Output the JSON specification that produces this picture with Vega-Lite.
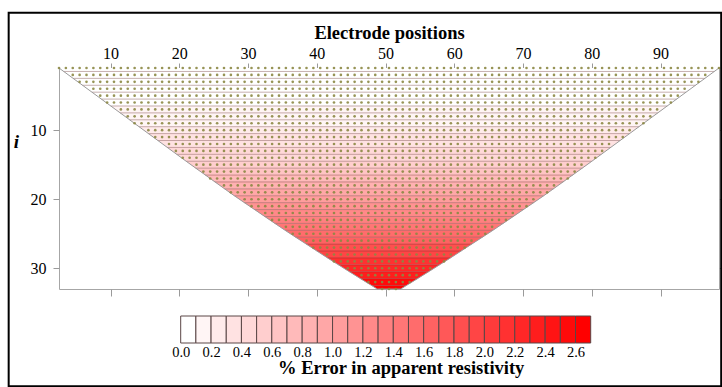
{
"$schema":"https://vega.github.io/schema/vega-lite/v6.json",
"padding":{"left":7,"top":11,"right":0,"bottom":0},
"autosize":{"type":"pad"},
"background":"white",
"bounds":"flush",
"spacing":27,
"resolve":{"scale":{"x":"independent","y":"independent","color":"independent"}},
"config":{"font":"Liberation Serif","axis":{"labelFont":"Liberation Serif","titleFont":"Liberation Serif","labelColor":"black","titleColor":"black","tickColor":"#9a9a9a","domain":false,"grid":false}},
"datasets":{
"frame":[{"x1":-4.82,"x2":98.82,"y1":-7.0,"y2":47.09}],
"outline":[{"o":1,"y":1,"x":2.5},{"o":2,"y":14.5,"x":20.99},{"o":3,"y":19.5,"x":28.0},{"o":4,"y":24.5,"x":35.38},{"o":5,"y":28.5,"x":41.56},{"o":6,"y":30.5,"x":44.74},{"o":7,"y":32.5,"x":47.98},{"o":8,"y":33,"x":48.8},{"o":9,"y":33,"x":52.2},{"o":10,"y":32.5,"x":53.02},{"o":11,"y":30.5,"x":56.26},{"o":12,"y":28.5,"x":59.44},{"o":13,"y":24.5,"x":65.62},{"o":14,"y":19.5,"x":73.0},{"o":15,"y":14.5,"x":80.01},{"o":16,"y":1,"x":98.5}],
"lines":[{"y":1.5,"l":3.18,"r":97.82},{"y":2.5,"l":4.55,"r":96.45},{"y":3.5,"l":5.92,"r":95.08},{"y":4.5,"l":7.29,"r":93.71},{"y":5.5,"l":8.66,"r":92.34},{"y":6.5,"l":10.03,"r":90.97},{"y":7.5,"l":11.4,"r":89.6},{"y":8.5,"l":12.77,"r":88.23},{"y":9.5,"l":14.14,"r":86.86},{"y":10.5,"l":15.51,"r":85.49},{"y":11.5,"l":16.88,"r":84.12},{"y":12.5,"l":18.25,"r":82.75},{"y":13.5,"l":19.62,"r":81.38},{"y":14.5,"l":20.99,"r":80.01},{"y":15.5,"l":22.37,"r":78.63},{"y":16.5,"l":23.75,"r":77.25},{"y":17.5,"l":25.15,"r":75.85},{"y":18.5,"l":26.57,"r":74.43},{"y":19.5,"l":28.0,"r":73.0},{"y":20.5,"l":29.44,"r":71.56},{"y":21.5,"l":30.91,"r":70.09},{"y":22.5,"l":32.38,"r":68.62},{"y":23.5,"l":33.87,"r":67.13},{"y":24.5,"l":35.38,"r":65.62},{"y":25.5,"l":36.9,"r":64.1},{"y":26.5,"l":38.44,"r":62.56},{"y":27.5,"l":39.99,"r":61.01},{"y":28.5,"l":41.56,"r":59.44},{"y":29.5,"l":43.14,"r":57.86},{"y":30.5,"l":44.74,"r":56.26},{"y":31.5,"l":46.35,"r":54.65},{"y":32.5,"l":47.98,"r":53.02}],
"bands":[
{"b":1,"y":1,"l":2.5,"r":98.5,"e":0},{"b":1,"y":1.5,"l":3.18,"r":97.82,"e":0},
{"b":2,"y":1.5,"l":3.18,"r":97.82,"e":0},{"b":2,"y":2.5,"l":4.55,"r":96.45,"e":0},
{"b":3,"y":2.5,"l":4.55,"r":96.45,"e":0.01},{"b":3,"y":3.5,"l":5.92,"r":95.08,"e":0.01},
{"b":4,"y":3.5,"l":5.92,"r":95.08,"e":0.03},{"b":4,"y":4.5,"l":7.29,"r":93.71,"e":0.03},
{"b":5,"y":4.5,"l":7.29,"r":93.71,"e":0.05},{"b":5,"y":5.5,"l":8.66,"r":92.34,"e":0.05},
{"b":6,"y":5.5,"l":8.66,"r":92.34,"e":0.08},{"b":6,"y":6.5,"l":10.03,"r":90.97,"e":0.08},
{"b":7,"y":6.5,"l":10.03,"r":90.97,"e":0.11},{"b":7,"y":7.5,"l":11.4,"r":89.6,"e":0.11},
{"b":8,"y":7.5,"l":11.4,"r":89.6,"e":0.15},{"b":8,"y":8.5,"l":12.77,"r":88.23,"e":0.15},
{"b":9,"y":8.5,"l":12.77,"r":88.23,"e":0.19},{"b":9,"y":9.5,"l":14.14,"r":86.86,"e":0.19},
{"b":10,"y":9.5,"l":14.14,"r":86.86,"e":0.24},{"b":10,"y":10.5,"l":15.51,"r":85.49,"e":0.24},
{"b":11,"y":10.5,"l":15.51,"r":85.49,"e":0.30},{"b":11,"y":11.5,"l":16.88,"r":84.12,"e":0.30},
{"b":12,"y":11.5,"l":16.88,"r":84.12,"e":0.36},{"b":12,"y":12.5,"l":18.25,"r":82.75,"e":0.36},
{"b":13,"y":12.5,"l":18.25,"r":82.75,"e":0.42},{"b":13,"y":13.5,"l":19.62,"r":81.38,"e":0.42},
{"b":14,"y":13.5,"l":19.62,"r":81.38,"e":0.49},{"b":14,"y":14.5,"l":20.99,"r":80.01,"e":0.49},
{"b":15,"y":14.5,"l":20.99,"r":80.01,"e":0.56},{"b":15,"y":15.5,"l":22.37,"r":78.63,"e":0.56},
{"b":16,"y":15.5,"l":22.37,"r":78.63,"e":0.64},{"b":16,"y":16.5,"l":23.75,"r":77.25,"e":0.64},
{"b":17,"y":16.5,"l":23.75,"r":77.25,"e":0.72},{"b":17,"y":17.5,"l":25.15,"r":75.85,"e":0.72},
{"b":18,"y":17.5,"l":25.15,"r":75.85,"e":0.81},{"b":18,"y":18.5,"l":26.57,"r":74.43,"e":0.81},
{"b":19,"y":18.5,"l":26.57,"r":74.43,"e":0.91},{"b":19,"y":19.5,"l":28.0,"r":73.0,"e":0.91},
{"b":20,"y":19.5,"l":28.0,"r":73.0,"e":1.00},{"b":20,"y":20.5,"l":29.44,"r":71.56,"e":1.00},
{"b":21,"y":20.5,"l":29.44,"r":71.56,"e":1.11},{"b":21,"y":21.5,"l":30.91,"r":70.09,"e":1.11},
{"b":22,"y":21.5,"l":30.91,"r":70.09,"e":1.21},{"b":22,"y":22.5,"l":32.38,"r":68.62,"e":1.21},
{"b":23,"y":22.5,"l":32.38,"r":68.62,"e":1.33},{"b":23,"y":23.5,"l":33.87,"r":67.13,"e":1.33},
{"b":24,"y":23.5,"l":33.87,"r":67.13,"e":1.44},{"b":24,"y":24.5,"l":35.38,"r":65.62,"e":1.44},
{"b":25,"y":24.5,"l":35.38,"r":65.62,"e":1.56},{"b":25,"y":25.5,"l":36.9,"r":64.1,"e":1.56},
{"b":26,"y":25.5,"l":36.9,"r":64.1,"e":1.69},{"b":26,"y":26.5,"l":38.44,"r":62.56,"e":1.69},
{"b":27,"y":26.5,"l":38.44,"r":62.56,"e":1.82},{"b":27,"y":27.5,"l":39.99,"r":61.01,"e":1.82},
{"b":28,"y":27.5,"l":39.99,"r":61.01,"e":1.96},{"b":28,"y":28.5,"l":41.56,"r":59.44,"e":1.96},
{"b":29,"y":28.5,"l":41.56,"r":59.44,"e":2.10},{"b":29,"y":29.5,"l":43.14,"r":57.86,"e":2.10},
{"b":30,"y":29.5,"l":43.14,"r":57.86,"e":2.24},{"b":30,"y":30.5,"l":44.74,"r":56.26,"e":2.24},
{"b":31,"y":30.5,"l":44.74,"r":56.26,"e":2.39},{"b":31,"y":31.5,"l":46.35,"r":54.65,"e":2.39},
{"b":32,"y":31.5,"l":46.35,"r":54.65,"e":2.54},{"b":32,"y":32.5,"l":47.98,"r":53.02,"e":2.54},
{"b":33,"y":32.5,"l":47.98,"r":53.02,"e":2.65},{"b":33,"y":33,"l":48.8,"r":52.2,"e":2.65}
],
"legend":[{"lo":0,"hi":0.1,"m":0.05},{"lo":0.1,"hi":0.2,"m":0.15},{"lo":0.2,"hi":0.3,"m":0.25},{"lo":0.3,"hi":0.4,"m":0.35},{"lo":0.4,"hi":0.5,"m":0.45},{"lo":0.5,"hi":0.6,"m":0.55},{"lo":0.6,"hi":0.7,"m":0.65},{"lo":0.7,"hi":0.8,"m":0.75},{"lo":0.8,"hi":0.9,"m":0.85},{"lo":0.9,"hi":1.0,"m":0.95},{"lo":1.0,"hi":1.1,"m":1.05},{"lo":1.1,"hi":1.2,"m":1.15},{"lo":1.2,"hi":1.3,"m":1.25},{"lo":1.3,"hi":1.4,"m":1.35},{"lo":1.4,"hi":1.5,"m":1.45},{"lo":1.5,"hi":1.6,"m":1.55},{"lo":1.6,"hi":1.7,"m":1.65},{"lo":1.7,"hi":1.8,"m":1.75},{"lo":1.8,"hi":1.9,"m":1.85},{"lo":1.9,"hi":2.0,"m":1.95},{"lo":2.0,"hi":2.1,"m":2.05},{"lo":2.1,"hi":2.2,"m":2.15},{"lo":2.2,"hi":2.3,"m":2.25},{"lo":2.3,"hi":2.4,"m":2.35},{"lo":2.4,"hi":2.5,"m":2.45},{"lo":2.5,"hi":2.6,"m":2.55},{"lo":2.6,"hi":2.7,"m":2.65}],
"dots":[
{"x":2.5,"i":1},{"x":3.5,"i":1},{"x":4.5,"i":1},{"x":5.5,"i":1},{"x":6.5,"i":1},{"x":7.5,"i":1},{"x":8.5,"i":1},{"x":9.5,"i":1},{"x":10.5,"i":1},{"x":11.5,"i":1},{"x":12.5,"i":1},{"x":13.5,"i":1},{"x":14.5,"i":1},{"x":15.5,"i":1},{"x":16.5,"i":1},{"x":17.5,"i":1},{"x":18.5,"i":1},{"x":19.5,"i":1},{"x":20.5,"i":1},{"x":21.5,"i":1},{"x":22.5,"i":1},{"x":23.5,"i":1},{"x":24.5,"i":1},{"x":25.5,"i":1},{"x":26.5,"i":1},{"x":27.5,"i":1},{"x":28.5,"i":1},{"x":29.5,"i":1},{"x":30.5,"i":1},{"x":31.5,"i":1},{"x":32.5,"i":1},{"x":33.5,"i":1},{"x":34.5,"i":1},{"x":35.5,"i":1},{"x":36.5,"i":1},{"x":37.5,"i":1},{"x":38.5,"i":1},{"x":39.5,"i":1},{"x":40.5,"i":1},{"x":41.5,"i":1},{"x":42.5,"i":1},{"x":43.5,"i":1},{"x":44.5,"i":1},{"x":45.5,"i":1},{"x":46.5,"i":1},{"x":47.5,"i":1},{"x":48.5,"i":1},{"x":49.5,"i":1},{"x":50.5,"i":1},{"x":51.5,"i":1},{"x":52.5,"i":1},{"x":53.5,"i":1},{"x":54.5,"i":1},{"x":55.5,"i":1},{"x":56.5,"i":1},{"x":57.5,"i":1},{"x":58.5,"i":1},{"x":59.5,"i":1},{"x":60.5,"i":1},{"x":61.5,"i":1},{"x":62.5,"i":1},{"x":63.5,"i":1},{"x":64.5,"i":1},{"x":65.5,"i":1},{"x":66.5,"i":1},{"x":67.5,"i":1},{"x":68.5,"i":1},{"x":69.5,"i":1},{"x":70.5,"i":1},{"x":71.5,"i":1},{"x":72.5,"i":1},{"x":73.5,"i":1},{"x":74.5,"i":1},{"x":75.5,"i":1},{"x":76.5,"i":1},{"x":77.5,"i":1},{"x":78.5,"i":1},{"x":79.5,"i":1},{"x":80.5,"i":1},{"x":81.5,"i":1},{"x":82.5,"i":1},{"x":83.5,"i":1},{"x":84.5,"i":1},{"x":85.5,"i":1},{"x":86.5,"i":1},{"x":87.5,"i":1},{"x":88.5,"i":1},{"x":89.5,"i":1},{"x":90.5,"i":1},{"x":91.5,"i":1},{"x":92.5,"i":1},{"x":93.5,"i":1},{"x":94.5,"i":1},{"x":95.5,"i":1},{"x":96.5,"i":1},{"x":97.5,"i":1},{"x":98.5,"i":1},
{"x":4.5,"i":2},{"x":5.5,"i":2},{"x":6.5,"i":2},{"x":7.5,"i":2},{"x":8.5,"i":2},{"x":9.5,"i":2},{"x":10.5,"i":2},{"x":11.5,"i":2},{"x":12.5,"i":2},{"x":13.5,"i":2},{"x":14.5,"i":2},{"x":15.5,"i":2},{"x":16.5,"i":2},{"x":17.5,"i":2},{"x":18.5,"i":2},{"x":19.5,"i":2},{"x":20.5,"i":2},{"x":21.5,"i":2},{"x":22.5,"i":2},{"x":23.5,"i":2},{"x":24.5,"i":2},{"x":25.5,"i":2},{"x":26.5,"i":2},{"x":27.5,"i":2},{"x":28.5,"i":2},{"x":29.5,"i":2},{"x":30.5,"i":2},{"x":31.5,"i":2},{"x":32.5,"i":2},{"x":33.5,"i":2},{"x":34.5,"i":2},{"x":35.5,"i":2},{"x":36.5,"i":2},{"x":37.5,"i":2},{"x":38.5,"i":2},{"x":39.5,"i":2},{"x":40.5,"i":2},{"x":41.5,"i":2},{"x":42.5,"i":2},{"x":43.5,"i":2},{"x":44.5,"i":2},{"x":45.5,"i":2},{"x":46.5,"i":2},{"x":47.5,"i":2},{"x":48.5,"i":2},{"x":49.5,"i":2},{"x":50.5,"i":2},{"x":51.5,"i":2},{"x":52.5,"i":2},{"x":53.5,"i":2},{"x":54.5,"i":2},{"x":55.5,"i":2},{"x":56.5,"i":2},{"x":57.5,"i":2},{"x":58.5,"i":2},{"x":59.5,"i":2},{"x":60.5,"i":2},{"x":61.5,"i":2},{"x":62.5,"i":2},{"x":63.5,"i":2},{"x":64.5,"i":2},{"x":65.5,"i":2},{"x":66.5,"i":2},{"x":67.5,"i":2},{"x":68.5,"i":2},{"x":69.5,"i":2},{"x":70.5,"i":2},{"x":71.5,"i":2},{"x":72.5,"i":2},{"x":73.5,"i":2},{"x":74.5,"i":2},{"x":75.5,"i":2},{"x":76.5,"i":2},{"x":77.5,"i":2},{"x":78.5,"i":2},{"x":79.5,"i":2},{"x":80.5,"i":2},{"x":81.5,"i":2},{"x":82.5,"i":2},{"x":83.5,"i":2},{"x":84.5,"i":2},{"x":85.5,"i":2},{"x":86.5,"i":2},{"x":87.5,"i":2},{"x":88.5,"i":2},{"x":89.5,"i":2},{"x":90.5,"i":2},{"x":91.5,"i":2},{"x":92.5,"i":2},{"x":93.5,"i":2},{"x":94.5,"i":2},{"x":95.5,"i":2},{"x":96.5,"i":2},
{"x":5.5,"i":3},{"x":6.5,"i":3},{"x":7.5,"i":3},{"x":8.5,"i":3},{"x":9.5,"i":3},{"x":10.5,"i":3},{"x":11.5,"i":3},{"x":12.5,"i":3},{"x":13.5,"i":3},{"x":14.5,"i":3},{"x":15.5,"i":3},{"x":16.5,"i":3},{"x":17.5,"i":3},{"x":18.5,"i":3},{"x":19.5,"i":3},{"x":20.5,"i":3},{"x":21.5,"i":3},{"x":22.5,"i":3},{"x":23.5,"i":3},{"x":24.5,"i":3},{"x":25.5,"i":3},{"x":26.5,"i":3},{"x":27.5,"i":3},{"x":28.5,"i":3},{"x":29.5,"i":3},{"x":30.5,"i":3},{"x":31.5,"i":3},{"x":32.5,"i":3},{"x":33.5,"i":3},{"x":34.5,"i":3},{"x":35.5,"i":3},{"x":36.5,"i":3},{"x":37.5,"i":3},{"x":38.5,"i":3},{"x":39.5,"i":3},{"x":40.5,"i":3},{"x":41.5,"i":3},{"x":42.5,"i":3},{"x":43.5,"i":3},{"x":44.5,"i":3},{"x":45.5,"i":3},{"x":46.5,"i":3},{"x":47.5,"i":3},{"x":48.5,"i":3},{"x":49.5,"i":3},{"x":50.5,"i":3},{"x":51.5,"i":3},{"x":52.5,"i":3},{"x":53.5,"i":3},{"x":54.5,"i":3},{"x":55.5,"i":3},{"x":56.5,"i":3},{"x":57.5,"i":3},{"x":58.5,"i":3},{"x":59.5,"i":3},{"x":60.5,"i":3},{"x":61.5,"i":3},{"x":62.5,"i":3},{"x":63.5,"i":3},{"x":64.5,"i":3},{"x":65.5,"i":3},{"x":66.5,"i":3},{"x":67.5,"i":3},{"x":68.5,"i":3},{"x":69.5,"i":3},{"x":70.5,"i":3},{"x":71.5,"i":3},{"x":72.5,"i":3},{"x":73.5,"i":3},{"x":74.5,"i":3},{"x":75.5,"i":3},{"x":76.5,"i":3},{"x":77.5,"i":3},{"x":78.5,"i":3},{"x":79.5,"i":3},{"x":80.5,"i":3},{"x":81.5,"i":3},{"x":82.5,"i":3},{"x":83.5,"i":3},{"x":84.5,"i":3},{"x":85.5,"i":3},{"x":86.5,"i":3},{"x":87.5,"i":3},{"x":88.5,"i":3},{"x":89.5,"i":3},{"x":90.5,"i":3},{"x":91.5,"i":3},{"x":92.5,"i":3},{"x":93.5,"i":3},{"x":94.5,"i":3},{"x":95.5,"i":3},
{"x":7.5,"i":4},{"x":8.5,"i":4},{"x":9.5,"i":4},{"x":10.5,"i":4},{"x":11.5,"i":4},{"x":12.5,"i":4},{"x":13.5,"i":4},{"x":14.5,"i":4},{"x":15.5,"i":4},{"x":16.5,"i":4},{"x":17.5,"i":4},{"x":18.5,"i":4},{"x":19.5,"i":4},{"x":20.5,"i":4},{"x":21.5,"i":4},{"x":22.5,"i":4},{"x":23.5,"i":4},{"x":24.5,"i":4},{"x":25.5,"i":4},{"x":26.5,"i":4},{"x":27.5,"i":4},{"x":28.5,"i":4},{"x":29.5,"i":4},{"x":30.5,"i":4},{"x":31.5,"i":4},{"x":32.5,"i":4},{"x":33.5,"i":4},{"x":34.5,"i":4},{"x":35.5,"i":4},{"x":36.5,"i":4},{"x":37.5,"i":4},{"x":38.5,"i":4},{"x":39.5,"i":4},{"x":40.5,"i":4},{"x":41.5,"i":4},{"x":42.5,"i":4},{"x":43.5,"i":4},{"x":44.5,"i":4},{"x":45.5,"i":4},{"x":46.5,"i":4},{"x":47.5,"i":4},{"x":48.5,"i":4},{"x":49.5,"i":4},{"x":50.5,"i":4},{"x":51.5,"i":4},{"x":52.5,"i":4},{"x":53.5,"i":4},{"x":54.5,"i":4},{"x":55.5,"i":4},{"x":56.5,"i":4},{"x":57.5,"i":4},{"x":58.5,"i":4},{"x":59.5,"i":4},{"x":60.5,"i":4},{"x":61.5,"i":4},{"x":62.5,"i":4},{"x":63.5,"i":4},{"x":64.5,"i":4},{"x":65.5,"i":4},{"x":66.5,"i":4},{"x":67.5,"i":4},{"x":68.5,"i":4},{"x":69.5,"i":4},{"x":70.5,"i":4},{"x":71.5,"i":4},{"x":72.5,"i":4},{"x":73.5,"i":4},{"x":74.5,"i":4},{"x":75.5,"i":4},{"x":76.5,"i":4},{"x":77.5,"i":4},{"x":78.5,"i":4},{"x":79.5,"i":4},{"x":80.5,"i":4},{"x":81.5,"i":4},{"x":82.5,"i":4},{"x":83.5,"i":4},{"x":84.5,"i":4},{"x":85.5,"i":4},{"x":86.5,"i":4},{"x":87.5,"i":4},{"x":88.5,"i":4},{"x":89.5,"i":4},{"x":90.5,"i":4},{"x":91.5,"i":4},{"x":92.5,"i":4},{"x":93.5,"i":4},
{"x":8.5,"i":5},{"x":9.5,"i":5},{"x":10.5,"i":5},{"x":11.5,"i":5},{"x":12.5,"i":5},{"x":13.5,"i":5},{"x":14.5,"i":5},{"x":15.5,"i":5},{"x":16.5,"i":5},{"x":17.5,"i":5},{"x":18.5,"i":5},{"x":19.5,"i":5},{"x":20.5,"i":5},{"x":21.5,"i":5},{"x":22.5,"i":5},{"x":23.5,"i":5},{"x":24.5,"i":5},{"x":25.5,"i":5},{"x":26.5,"i":5},{"x":27.5,"i":5},{"x":28.5,"i":5},{"x":29.5,"i":5},{"x":30.5,"i":5},{"x":31.5,"i":5},{"x":32.5,"i":5},{"x":33.5,"i":5},{"x":34.5,"i":5},{"x":35.5,"i":5},{"x":36.5,"i":5},{"x":37.5,"i":5},{"x":38.5,"i":5},{"x":39.5,"i":5},{"x":40.5,"i":5},{"x":41.5,"i":5},{"x":42.5,"i":5},{"x":43.5,"i":5},{"x":44.5,"i":5},{"x":45.5,"i":5},{"x":46.5,"i":5},{"x":47.5,"i":5},{"x":48.5,"i":5},{"x":49.5,"i":5},{"x":50.5,"i":5},{"x":51.5,"i":5},{"x":52.5,"i":5},{"x":53.5,"i":5},{"x":54.5,"i":5},{"x":55.5,"i":5},{"x":56.5,"i":5},{"x":57.5,"i":5},{"x":58.5,"i":5},{"x":59.5,"i":5},{"x":60.5,"i":5},{"x":61.5,"i":5},{"x":62.5,"i":5},{"x":63.5,"i":5},{"x":64.5,"i":5},{"x":65.5,"i":5},{"x":66.5,"i":5},{"x":67.5,"i":5},{"x":68.5,"i":5},{"x":69.5,"i":5},{"x":70.5,"i":5},{"x":71.5,"i":5},{"x":72.5,"i":5},{"x":73.5,"i":5},{"x":74.5,"i":5},{"x":75.5,"i":5},{"x":76.5,"i":5},{"x":77.5,"i":5},{"x":78.5,"i":5},{"x":79.5,"i":5},{"x":80.5,"i":5},{"x":81.5,"i":5},{"x":82.5,"i":5},{"x":83.5,"i":5},{"x":84.5,"i":5},{"x":85.5,"i":5},{"x":86.5,"i":5},{"x":87.5,"i":5},{"x":88.5,"i":5},{"x":89.5,"i":5},{"x":90.5,"i":5},{"x":91.5,"i":5},{"x":92.5,"i":5},
{"x":9.5,"i":6},{"x":10.5,"i":6},{"x":11.5,"i":6},{"x":12.5,"i":6},{"x":13.5,"i":6},{"x":14.5,"i":6},{"x":15.5,"i":6},{"x":16.5,"i":6},{"x":17.5,"i":6},{"x":18.5,"i":6},{"x":19.5,"i":6},{"x":20.5,"i":6},{"x":21.5,"i":6},{"x":22.5,"i":6},{"x":23.5,"i":6},{"x":24.5,"i":6},{"x":25.5,"i":6},{"x":26.5,"i":6},{"x":27.5,"i":6},{"x":28.5,"i":6},{"x":29.5,"i":6},{"x":30.5,"i":6},{"x":31.5,"i":6},{"x":32.5,"i":6},{"x":33.5,"i":6},{"x":34.5,"i":6},{"x":35.5,"i":6},{"x":36.5,"i":6},{"x":37.5,"i":6},{"x":38.5,"i":6},{"x":39.5,"i":6},{"x":40.5,"i":6},{"x":41.5,"i":6},{"x":42.5,"i":6},{"x":43.5,"i":6},{"x":44.5,"i":6},{"x":45.5,"i":6},{"x":46.5,"i":6},{"x":47.5,"i":6},{"x":48.5,"i":6},{"x":49.5,"i":6},{"x":50.5,"i":6},{"x":51.5,"i":6},{"x":52.5,"i":6},{"x":53.5,"i":6},{"x":54.5,"i":6},{"x":55.5,"i":6},{"x":56.5,"i":6},{"x":57.5,"i":6},{"x":58.5,"i":6},{"x":59.5,"i":6},{"x":60.5,"i":6},{"x":61.5,"i":6},{"x":62.5,"i":6},{"x":63.5,"i":6},{"x":64.5,"i":6},{"x":65.5,"i":6},{"x":66.5,"i":6},{"x":67.5,"i":6},{"x":68.5,"i":6},{"x":69.5,"i":6},{"x":70.5,"i":6},{"x":71.5,"i":6},{"x":72.5,"i":6},{"x":73.5,"i":6},{"x":74.5,"i":6},{"x":75.5,"i":6},{"x":76.5,"i":6},{"x":77.5,"i":6},{"x":78.5,"i":6},{"x":79.5,"i":6},{"x":80.5,"i":6},{"x":81.5,"i":6},{"x":82.5,"i":6},{"x":83.5,"i":6},{"x":84.5,"i":6},{"x":85.5,"i":6},{"x":86.5,"i":6},{"x":87.5,"i":6},{"x":88.5,"i":6},{"x":89.5,"i":6},{"x":90.5,"i":6},{"x":91.5,"i":6},
{"x":11.5,"i":7},{"x":12.5,"i":7},{"x":13.5,"i":7},{"x":14.5,"i":7},{"x":15.5,"i":7},{"x":16.5,"i":7},{"x":17.5,"i":7},{"x":18.5,"i":7},{"x":19.5,"i":7},{"x":20.5,"i":7},{"x":21.5,"i":7},{"x":22.5,"i":7},{"x":23.5,"i":7},{"x":24.5,"i":7},{"x":25.5,"i":7},{"x":26.5,"i":7},{"x":27.5,"i":7},{"x":28.5,"i":7},{"x":29.5,"i":7},{"x":30.5,"i":7},{"x":31.5,"i":7},{"x":32.5,"i":7},{"x":33.5,"i":7},{"x":34.5,"i":7},{"x":35.5,"i":7},{"x":36.5,"i":7},{"x":37.5,"i":7},{"x":38.5,"i":7},{"x":39.5,"i":7},{"x":40.5,"i":7},{"x":41.5,"i":7},{"x":42.5,"i":7},{"x":43.5,"i":7},{"x":44.5,"i":7},{"x":45.5,"i":7},{"x":46.5,"i":7},{"x":47.5,"i":7},{"x":48.5,"i":7},{"x":49.5,"i":7},{"x":50.5,"i":7},{"x":51.5,"i":7},{"x":52.5,"i":7},{"x":53.5,"i":7},{"x":54.5,"i":7},{"x":55.5,"i":7},{"x":56.5,"i":7},{"x":57.5,"i":7},{"x":58.5,"i":7},{"x":59.5,"i":7},{"x":60.5,"i":7},{"x":61.5,"i":7},{"x":62.5,"i":7},{"x":63.5,"i":7},{"x":64.5,"i":7},{"x":65.5,"i":7},{"x":66.5,"i":7},{"x":67.5,"i":7},{"x":68.5,"i":7},{"x":69.5,"i":7},{"x":70.5,"i":7},{"x":71.5,"i":7},{"x":72.5,"i":7},{"x":73.5,"i":7},{"x":74.5,"i":7},{"x":75.5,"i":7},{"x":76.5,"i":7},{"x":77.5,"i":7},{"x":78.5,"i":7},{"x":79.5,"i":7},{"x":80.5,"i":7},{"x":81.5,"i":7},{"x":82.5,"i":7},{"x":83.5,"i":7},{"x":84.5,"i":7},{"x":85.5,"i":7},{"x":86.5,"i":7},{"x":87.5,"i":7},{"x":88.5,"i":7},{"x":89.5,"i":7},
{"x":12.5,"i":8},{"x":13.5,"i":8},{"x":14.5,"i":8},{"x":15.5,"i":8},{"x":16.5,"i":8},{"x":17.5,"i":8},{"x":18.5,"i":8},{"x":19.5,"i":8},{"x":20.5,"i":8},{"x":21.5,"i":8},{"x":22.5,"i":8},{"x":23.5,"i":8},{"x":24.5,"i":8},{"x":25.5,"i":8},{"x":26.5,"i":8},{"x":27.5,"i":8},{"x":28.5,"i":8},{"x":29.5,"i":8},{"x":30.5,"i":8},{"x":31.5,"i":8},{"x":32.5,"i":8},{"x":33.5,"i":8},{"x":34.5,"i":8},{"x":35.5,"i":8},{"x":36.5,"i":8},{"x":37.5,"i":8},{"x":38.5,"i":8},{"x":39.5,"i":8},{"x":40.5,"i":8},{"x":41.5,"i":8},{"x":42.5,"i":8},{"x":43.5,"i":8},{"x":44.5,"i":8},{"x":45.5,"i":8},{"x":46.5,"i":8},{"x":47.5,"i":8},{"x":48.5,"i":8},{"x":49.5,"i":8},{"x":50.5,"i":8},{"x":51.5,"i":8},{"x":52.5,"i":8},{"x":53.5,"i":8},{"x":54.5,"i":8},{"x":55.5,"i":8},{"x":56.5,"i":8},{"x":57.5,"i":8},{"x":58.5,"i":8},{"x":59.5,"i":8},{"x":60.5,"i":8},{"x":61.5,"i":8},{"x":62.5,"i":8},{"x":63.5,"i":8},{"x":64.5,"i":8},{"x":65.5,"i":8},{"x":66.5,"i":8},{"x":67.5,"i":8},{"x":68.5,"i":8},{"x":69.5,"i":8},{"x":70.5,"i":8},{"x":71.5,"i":8},{"x":72.5,"i":8},{"x":73.5,"i":8},{"x":74.5,"i":8},{"x":75.5,"i":8},{"x":76.5,"i":8},{"x":77.5,"i":8},{"x":78.5,"i":8},{"x":79.5,"i":8},{"x":80.5,"i":8},{"x":81.5,"i":8},{"x":82.5,"i":8},{"x":83.5,"i":8},{"x":84.5,"i":8},{"x":85.5,"i":8},{"x":86.5,"i":8},{"x":87.5,"i":8},{"x":88.5,"i":8},
{"x":13.5,"i":9},{"x":14.5,"i":9},{"x":15.5,"i":9},{"x":16.5,"i":9},{"x":17.5,"i":9},{"x":18.5,"i":9},{"x":19.5,"i":9},{"x":20.5,"i":9},{"x":21.5,"i":9},{"x":22.5,"i":9},{"x":23.5,"i":9},{"x":24.5,"i":9},{"x":25.5,"i":9},{"x":26.5,"i":9},{"x":27.5,"i":9},{"x":28.5,"i":9},{"x":29.5,"i":9},{"x":30.5,"i":9},{"x":31.5,"i":9},{"x":32.5,"i":9},{"x":33.5,"i":9},{"x":34.5,"i":9},{"x":35.5,"i":9},{"x":36.5,"i":9},{"x":37.5,"i":9},{"x":38.5,"i":9},{"x":39.5,"i":9},{"x":40.5,"i":9},{"x":41.5,"i":9},{"x":42.5,"i":9},{"x":43.5,"i":9},{"x":44.5,"i":9},{"x":45.5,"i":9},{"x":46.5,"i":9},{"x":47.5,"i":9},{"x":48.5,"i":9},{"x":49.5,"i":9},{"x":50.5,"i":9},{"x":51.5,"i":9},{"x":52.5,"i":9},{"x":53.5,"i":9},{"x":54.5,"i":9},{"x":55.5,"i":9},{"x":56.5,"i":9},{"x":57.5,"i":9},{"x":58.5,"i":9},{"x":59.5,"i":9},{"x":60.5,"i":9},{"x":61.5,"i":9},{"x":62.5,"i":9},{"x":63.5,"i":9},{"x":64.5,"i":9},{"x":65.5,"i":9},{"x":66.5,"i":9},{"x":67.5,"i":9},{"x":68.5,"i":9},{"x":69.5,"i":9},{"x":70.5,"i":9},{"x":71.5,"i":9},{"x":72.5,"i":9},{"x":73.5,"i":9},{"x":74.5,"i":9},{"x":75.5,"i":9},{"x":76.5,"i":9},{"x":77.5,"i":9},{"x":78.5,"i":9},{"x":79.5,"i":9},{"x":80.5,"i":9},{"x":81.5,"i":9},{"x":82.5,"i":9},{"x":83.5,"i":9},{"x":84.5,"i":9},{"x":85.5,"i":9},{"x":86.5,"i":9},{"x":87.5,"i":9},
{"x":15.5,"i":10},{"x":16.5,"i":10},{"x":17.5,"i":10},{"x":18.5,"i":10},{"x":19.5,"i":10},{"x":20.5,"i":10},{"x":21.5,"i":10},{"x":22.5,"i":10},{"x":23.5,"i":10},{"x":24.5,"i":10},{"x":25.5,"i":10},{"x":26.5,"i":10},{"x":27.5,"i":10},{"x":28.5,"i":10},{"x":29.5,"i":10},{"x":30.5,"i":10},{"x":31.5,"i":10},{"x":32.5,"i":10},{"x":33.5,"i":10},{"x":34.5,"i":10},{"x":35.5,"i":10},{"x":36.5,"i":10},{"x":37.5,"i":10},{"x":38.5,"i":10},{"x":39.5,"i":10},{"x":40.5,"i":10},{"x":41.5,"i":10},{"x":42.5,"i":10},{"x":43.5,"i":10},{"x":44.5,"i":10},{"x":45.5,"i":10},{"x":46.5,"i":10},{"x":47.5,"i":10},{"x":48.5,"i":10},{"x":49.5,"i":10},{"x":50.5,"i":10},{"x":51.5,"i":10},{"x":52.5,"i":10},{"x":53.5,"i":10},{"x":54.5,"i":10},{"x":55.5,"i":10},{"x":56.5,"i":10},{"x":57.5,"i":10},{"x":58.5,"i":10},{"x":59.5,"i":10},{"x":60.5,"i":10},{"x":61.5,"i":10},{"x":62.5,"i":10},{"x":63.5,"i":10},{"x":64.5,"i":10},{"x":65.5,"i":10},{"x":66.5,"i":10},{"x":67.5,"i":10},{"x":68.5,"i":10},{"x":69.5,"i":10},{"x":70.5,"i":10},{"x":71.5,"i":10},{"x":72.5,"i":10},{"x":73.5,"i":10},{"x":74.5,"i":10},{"x":75.5,"i":10},{"x":76.5,"i":10},{"x":77.5,"i":10},{"x":78.5,"i":10},{"x":79.5,"i":10},{"x":80.5,"i":10},{"x":81.5,"i":10},{"x":82.5,"i":10},{"x":83.5,"i":10},{"x":84.5,"i":10},{"x":85.5,"i":10},
{"x":16.5,"i":11},{"x":17.5,"i":11},{"x":18.5,"i":11},{"x":19.5,"i":11},{"x":20.5,"i":11},{"x":21.5,"i":11},{"x":22.5,"i":11},{"x":23.5,"i":11},{"x":24.5,"i":11},{"x":25.5,"i":11},{"x":26.5,"i":11},{"x":27.5,"i":11},{"x":28.5,"i":11},{"x":29.5,"i":11},{"x":30.5,"i":11},{"x":31.5,"i":11},{"x":32.5,"i":11},{"x":33.5,"i":11},{"x":34.5,"i":11},{"x":35.5,"i":11},{"x":36.5,"i":11},{"x":37.5,"i":11},{"x":38.5,"i":11},{"x":39.5,"i":11},{"x":40.5,"i":11},{"x":41.5,"i":11},{"x":42.5,"i":11},{"x":43.5,"i":11},{"x":44.5,"i":11},{"x":45.5,"i":11},{"x":46.5,"i":11},{"x":47.5,"i":11},{"x":48.5,"i":11},{"x":49.5,"i":11},{"x":50.5,"i":11},{"x":51.5,"i":11},{"x":52.5,"i":11},{"x":53.5,"i":11},{"x":54.5,"i":11},{"x":55.5,"i":11},{"x":56.5,"i":11},{"x":57.5,"i":11},{"x":58.5,"i":11},{"x":59.5,"i":11},{"x":60.5,"i":11},{"x":61.5,"i":11},{"x":62.5,"i":11},{"x":63.5,"i":11},{"x":64.5,"i":11},{"x":65.5,"i":11},{"x":66.5,"i":11},{"x":67.5,"i":11},{"x":68.5,"i":11},{"x":69.5,"i":11},{"x":70.5,"i":11},{"x":71.5,"i":11},{"x":72.5,"i":11},{"x":73.5,"i":11},{"x":74.5,"i":11},{"x":75.5,"i":11},{"x":76.5,"i":11},{"x":77.5,"i":11},{"x":78.5,"i":11},{"x":79.5,"i":11},{"x":80.5,"i":11},{"x":81.5,"i":11},{"x":82.5,"i":11},{"x":83.5,"i":11},{"x":84.5,"i":11},
{"x":18.5,"i":12},{"x":19.5,"i":12},{"x":20.5,"i":12},{"x":21.5,"i":12},{"x":22.5,"i":12},{"x":23.5,"i":12},{"x":24.5,"i":12},{"x":25.5,"i":12},{"x":26.5,"i":12},{"x":27.5,"i":12},{"x":28.5,"i":12},{"x":29.5,"i":12},{"x":30.5,"i":12},{"x":31.5,"i":12},{"x":32.5,"i":12},{"x":33.5,"i":12},{"x":34.5,"i":12},{"x":35.5,"i":12},{"x":36.5,"i":12},{"x":37.5,"i":12},{"x":38.5,"i":12},{"x":39.5,"i":12},{"x":40.5,"i":12},{"x":41.5,"i":12},{"x":42.5,"i":12},{"x":43.5,"i":12},{"x":44.5,"i":12},{"x":45.5,"i":12},{"x":46.5,"i":12},{"x":47.5,"i":12},{"x":48.5,"i":12},{"x":49.5,"i":12},{"x":50.5,"i":12},{"x":51.5,"i":12},{"x":52.5,"i":12},{"x":53.5,"i":12},{"x":54.5,"i":12},{"x":55.5,"i":12},{"x":56.5,"i":12},{"x":57.5,"i":12},{"x":58.5,"i":12},{"x":59.5,"i":12},{"x":60.5,"i":12},{"x":61.5,"i":12},{"x":62.5,"i":12},{"x":63.5,"i":12},{"x":64.5,"i":12},{"x":65.5,"i":12},{"x":66.5,"i":12},{"x":67.5,"i":12},{"x":68.5,"i":12},{"x":69.5,"i":12},{"x":70.5,"i":12},{"x":71.5,"i":12},{"x":72.5,"i":12},{"x":73.5,"i":12},{"x":74.5,"i":12},{"x":75.5,"i":12},{"x":76.5,"i":12},{"x":77.5,"i":12},{"x":78.5,"i":12},{"x":79.5,"i":12},{"x":80.5,"i":12},{"x":81.5,"i":12},{"x":82.5,"i":12},
{"x":19.5,"i":13},{"x":20.5,"i":13},{"x":21.5,"i":13},{"x":22.5,"i":13},{"x":23.5,"i":13},{"x":24.5,"i":13},{"x":25.5,"i":13},{"x":26.5,"i":13},{"x":27.5,"i":13},{"x":28.5,"i":13},{"x":29.5,"i":13},{"x":30.5,"i":13},{"x":31.5,"i":13},{"x":32.5,"i":13},{"x":33.5,"i":13},{"x":34.5,"i":13},{"x":35.5,"i":13},{"x":36.5,"i":13},{"x":37.5,"i":13},{"x":38.5,"i":13},{"x":39.5,"i":13},{"x":40.5,"i":13},{"x":41.5,"i":13},{"x":42.5,"i":13},{"x":43.5,"i":13},{"x":44.5,"i":13},{"x":45.5,"i":13},{"x":46.5,"i":13},{"x":47.5,"i":13},{"x":48.5,"i":13},{"x":49.5,"i":13},{"x":50.5,"i":13},{"x":51.5,"i":13},{"x":52.5,"i":13},{"x":53.5,"i":13},{"x":54.5,"i":13},{"x":55.5,"i":13},{"x":56.5,"i":13},{"x":57.5,"i":13},{"x":58.5,"i":13},{"x":59.5,"i":13},{"x":60.5,"i":13},{"x":61.5,"i":13},{"x":62.5,"i":13},{"x":63.5,"i":13},{"x":64.5,"i":13},{"x":65.5,"i":13},{"x":66.5,"i":13},{"x":67.5,"i":13},{"x":68.5,"i":13},{"x":69.5,"i":13},{"x":70.5,"i":13},{"x":71.5,"i":13},{"x":72.5,"i":13},{"x":73.5,"i":13},{"x":74.5,"i":13},{"x":75.5,"i":13},{"x":76.5,"i":13},{"x":77.5,"i":13},{"x":78.5,"i":13},{"x":79.5,"i":13},{"x":80.5,"i":13},{"x":81.5,"i":13},
{"x":20.5,"i":14},{"x":21.5,"i":14},{"x":22.5,"i":14},{"x":23.5,"i":14},{"x":24.5,"i":14},{"x":25.5,"i":14},{"x":26.5,"i":14},{"x":27.5,"i":14},{"x":28.5,"i":14},{"x":29.5,"i":14},{"x":30.5,"i":14},{"x":31.5,"i":14},{"x":32.5,"i":14},{"x":33.5,"i":14},{"x":34.5,"i":14},{"x":35.5,"i":14},{"x":36.5,"i":14},{"x":37.5,"i":14},{"x":38.5,"i":14},{"x":39.5,"i":14},{"x":40.5,"i":14},{"x":41.5,"i":14},{"x":42.5,"i":14},{"x":43.5,"i":14},{"x":44.5,"i":14},{"x":45.5,"i":14},{"x":46.5,"i":14},{"x":47.5,"i":14},{"x":48.5,"i":14},{"x":49.5,"i":14},{"x":50.5,"i":14},{"x":51.5,"i":14},{"x":52.5,"i":14},{"x":53.5,"i":14},{"x":54.5,"i":14},{"x":55.5,"i":14},{"x":56.5,"i":14},{"x":57.5,"i":14},{"x":58.5,"i":14},{"x":59.5,"i":14},{"x":60.5,"i":14},{"x":61.5,"i":14},{"x":62.5,"i":14},{"x":63.5,"i":14},{"x":64.5,"i":14},{"x":65.5,"i":14},{"x":66.5,"i":14},{"x":67.5,"i":14},{"x":68.5,"i":14},{"x":69.5,"i":14},{"x":70.5,"i":14},{"x":71.5,"i":14},{"x":72.5,"i":14},{"x":73.5,"i":14},{"x":74.5,"i":14},{"x":75.5,"i":14},{"x":76.5,"i":14},{"x":77.5,"i":14},{"x":78.5,"i":14},{"x":79.5,"i":14},{"x":80.5,"i":14},
{"x":22.5,"i":15},{"x":23.5,"i":15},{"x":24.5,"i":15},{"x":25.5,"i":15},{"x":26.5,"i":15},{"x":27.5,"i":15},{"x":28.5,"i":15},{"x":29.5,"i":15},{"x":30.5,"i":15},{"x":31.5,"i":15},{"x":32.5,"i":15},{"x":33.5,"i":15},{"x":34.5,"i":15},{"x":35.5,"i":15},{"x":36.5,"i":15},{"x":37.5,"i":15},{"x":38.5,"i":15},{"x":39.5,"i":15},{"x":40.5,"i":15},{"x":41.5,"i":15},{"x":42.5,"i":15},{"x":43.5,"i":15},{"x":44.5,"i":15},{"x":45.5,"i":15},{"x":46.5,"i":15},{"x":47.5,"i":15},{"x":48.5,"i":15},{"x":49.5,"i":15},{"x":50.5,"i":15},{"x":51.5,"i":15},{"x":52.5,"i":15},{"x":53.5,"i":15},{"x":54.5,"i":15},{"x":55.5,"i":15},{"x":56.5,"i":15},{"x":57.5,"i":15},{"x":58.5,"i":15},{"x":59.5,"i":15},{"x":60.5,"i":15},{"x":61.5,"i":15},{"x":62.5,"i":15},{"x":63.5,"i":15},{"x":64.5,"i":15},{"x":65.5,"i":15},{"x":66.5,"i":15},{"x":67.5,"i":15},{"x":68.5,"i":15},{"x":69.5,"i":15},{"x":70.5,"i":15},{"x":71.5,"i":15},{"x":72.5,"i":15},{"x":73.5,"i":15},{"x":74.5,"i":15},{"x":75.5,"i":15},{"x":76.5,"i":15},{"x":77.5,"i":15},{"x":78.5,"i":15},
{"x":23.5,"i":16},{"x":24.5,"i":16},{"x":25.5,"i":16},{"x":26.5,"i":16},{"x":27.5,"i":16},{"x":28.5,"i":16},{"x":29.5,"i":16},{"x":30.5,"i":16},{"x":31.5,"i":16},{"x":32.5,"i":16},{"x":33.5,"i":16},{"x":34.5,"i":16},{"x":35.5,"i":16},{"x":36.5,"i":16},{"x":37.5,"i":16},{"x":38.5,"i":16},{"x":39.5,"i":16},{"x":40.5,"i":16},{"x":41.5,"i":16},{"x":42.5,"i":16},{"x":43.5,"i":16},{"x":44.5,"i":16},{"x":45.5,"i":16},{"x":46.5,"i":16},{"x":47.5,"i":16},{"x":48.5,"i":16},{"x":49.5,"i":16},{"x":50.5,"i":16},{"x":51.5,"i":16},{"x":52.5,"i":16},{"x":53.5,"i":16},{"x":54.5,"i":16},{"x":55.5,"i":16},{"x":56.5,"i":16},{"x":57.5,"i":16},{"x":58.5,"i":16},{"x":59.5,"i":16},{"x":60.5,"i":16},{"x":61.5,"i":16},{"x":62.5,"i":16},{"x":63.5,"i":16},{"x":64.5,"i":16},{"x":65.5,"i":16},{"x":66.5,"i":16},{"x":67.5,"i":16},{"x":68.5,"i":16},{"x":69.5,"i":16},{"x":70.5,"i":16},{"x":71.5,"i":16},{"x":72.5,"i":16},{"x":73.5,"i":16},{"x":74.5,"i":16},{"x":75.5,"i":16},{"x":76.5,"i":16},{"x":77.5,"i":16},
{"x":24.5,"i":17},{"x":25.5,"i":17},{"x":26.5,"i":17},{"x":27.5,"i":17},{"x":28.5,"i":17},{"x":29.5,"i":17},{"x":30.5,"i":17},{"x":31.5,"i":17},{"x":32.5,"i":17},{"x":33.5,"i":17},{"x":34.5,"i":17},{"x":35.5,"i":17},{"x":36.5,"i":17},{"x":37.5,"i":17},{"x":38.5,"i":17},{"x":39.5,"i":17},{"x":40.5,"i":17},{"x":41.5,"i":17},{"x":42.5,"i":17},{"x":43.5,"i":17},{"x":44.5,"i":17},{"x":45.5,"i":17},{"x":46.5,"i":17},{"x":47.5,"i":17},{"x":48.5,"i":17},{"x":49.5,"i":17},{"x":50.5,"i":17},{"x":51.5,"i":17},{"x":52.5,"i":17},{"x":53.5,"i":17},{"x":54.5,"i":17},{"x":55.5,"i":17},{"x":56.5,"i":17},{"x":57.5,"i":17},{"x":58.5,"i":17},{"x":59.5,"i":17},{"x":60.5,"i":17},{"x":61.5,"i":17},{"x":62.5,"i":17},{"x":63.5,"i":17},{"x":64.5,"i":17},{"x":65.5,"i":17},{"x":66.5,"i":17},{"x":67.5,"i":17},{"x":68.5,"i":17},{"x":69.5,"i":17},{"x":70.5,"i":17},{"x":71.5,"i":17},{"x":72.5,"i":17},{"x":73.5,"i":17},{"x":74.5,"i":17},{"x":75.5,"i":17},{"x":76.5,"i":17},
{"x":26.5,"i":18},{"x":27.5,"i":18},{"x":28.5,"i":18},{"x":29.5,"i":18},{"x":30.5,"i":18},{"x":31.5,"i":18},{"x":32.5,"i":18},{"x":33.5,"i":18},{"x":34.5,"i":18},{"x":35.5,"i":18},{"x":36.5,"i":18},{"x":37.5,"i":18},{"x":38.5,"i":18},{"x":39.5,"i":18},{"x":40.5,"i":18},{"x":41.5,"i":18},{"x":42.5,"i":18},{"x":43.5,"i":18},{"x":44.5,"i":18},{"x":45.5,"i":18},{"x":46.5,"i":18},{"x":47.5,"i":18},{"x":48.5,"i":18},{"x":49.5,"i":18},{"x":50.5,"i":18},{"x":51.5,"i":18},{"x":52.5,"i":18},{"x":53.5,"i":18},{"x":54.5,"i":18},{"x":55.5,"i":18},{"x":56.5,"i":18},{"x":57.5,"i":18},{"x":58.5,"i":18},{"x":59.5,"i":18},{"x":60.5,"i":18},{"x":61.5,"i":18},{"x":62.5,"i":18},{"x":63.5,"i":18},{"x":64.5,"i":18},{"x":65.5,"i":18},{"x":66.5,"i":18},{"x":67.5,"i":18},{"x":68.5,"i":18},{"x":69.5,"i":18},{"x":70.5,"i":18},{"x":71.5,"i":18},{"x":72.5,"i":18},{"x":73.5,"i":18},{"x":74.5,"i":18},
{"x":27.5,"i":19},{"x":28.5,"i":19},{"x":29.5,"i":19},{"x":30.5,"i":19},{"x":31.5,"i":19},{"x":32.5,"i":19},{"x":33.5,"i":19},{"x":34.5,"i":19},{"x":35.5,"i":19},{"x":36.5,"i":19},{"x":37.5,"i":19},{"x":38.5,"i":19},{"x":39.5,"i":19},{"x":40.5,"i":19},{"x":41.5,"i":19},{"x":42.5,"i":19},{"x":43.5,"i":19},{"x":44.5,"i":19},{"x":45.5,"i":19},{"x":46.5,"i":19},{"x":47.5,"i":19},{"x":48.5,"i":19},{"x":49.5,"i":19},{"x":50.5,"i":19},{"x":51.5,"i":19},{"x":52.5,"i":19},{"x":53.5,"i":19},{"x":54.5,"i":19},{"x":55.5,"i":19},{"x":56.5,"i":19},{"x":57.5,"i":19},{"x":58.5,"i":19},{"x":59.5,"i":19},{"x":60.5,"i":19},{"x":61.5,"i":19},{"x":62.5,"i":19},{"x":63.5,"i":19},{"x":64.5,"i":19},{"x":65.5,"i":19},{"x":66.5,"i":19},{"x":67.5,"i":19},{"x":68.5,"i":19},{"x":69.5,"i":19},{"x":70.5,"i":19},{"x":71.5,"i":19},{"x":72.5,"i":19},{"x":73.5,"i":19},
{"x":29.5,"i":20},{"x":30.5,"i":20},{"x":31.5,"i":20},{"x":32.5,"i":20},{"x":33.5,"i":20},{"x":34.5,"i":20},{"x":35.5,"i":20},{"x":36.5,"i":20},{"x":37.5,"i":20},{"x":38.5,"i":20},{"x":39.5,"i":20},{"x":40.5,"i":20},{"x":41.5,"i":20},{"x":42.5,"i":20},{"x":43.5,"i":20},{"x":44.5,"i":20},{"x":45.5,"i":20},{"x":46.5,"i":20},{"x":47.5,"i":20},{"x":48.5,"i":20},{"x":49.5,"i":20},{"x":50.5,"i":20},{"x":51.5,"i":20},{"x":52.5,"i":20},{"x":53.5,"i":20},{"x":54.5,"i":20},{"x":55.5,"i":20},{"x":56.5,"i":20},{"x":57.5,"i":20},{"x":58.5,"i":20},{"x":59.5,"i":20},{"x":60.5,"i":20},{"x":61.5,"i":20},{"x":62.5,"i":20},{"x":63.5,"i":20},{"x":64.5,"i":20},{"x":65.5,"i":20},{"x":66.5,"i":20},{"x":67.5,"i":20},{"x":68.5,"i":20},{"x":69.5,"i":20},{"x":70.5,"i":20},{"x":71.5,"i":20},
{"x":30.5,"i":21},{"x":31.5,"i":21},{"x":32.5,"i":21},{"x":33.5,"i":21},{"x":34.5,"i":21},{"x":35.5,"i":21},{"x":36.5,"i":21},{"x":37.5,"i":21},{"x":38.5,"i":21},{"x":39.5,"i":21},{"x":40.5,"i":21},{"x":41.5,"i":21},{"x":42.5,"i":21},{"x":43.5,"i":21},{"x":44.5,"i":21},{"x":45.5,"i":21},{"x":46.5,"i":21},{"x":47.5,"i":21},{"x":48.5,"i":21},{"x":49.5,"i":21},{"x":50.5,"i":21},{"x":51.5,"i":21},{"x":52.5,"i":21},{"x":53.5,"i":21},{"x":54.5,"i":21},{"x":55.5,"i":21},{"x":56.5,"i":21},{"x":57.5,"i":21},{"x":58.5,"i":21},{"x":59.5,"i":21},{"x":60.5,"i":21},{"x":61.5,"i":21},{"x":62.5,"i":21},{"x":63.5,"i":21},{"x":64.5,"i":21},{"x":65.5,"i":21},{"x":66.5,"i":21},{"x":67.5,"i":21},{"x":68.5,"i":21},{"x":69.5,"i":21},{"x":70.5,"i":21},
{"x":32.5,"i":22},{"x":33.5,"i":22},{"x":34.5,"i":22},{"x":35.5,"i":22},{"x":36.5,"i":22},{"x":37.5,"i":22},{"x":38.5,"i":22},{"x":39.5,"i":22},{"x":40.5,"i":22},{"x":41.5,"i":22},{"x":42.5,"i":22},{"x":43.5,"i":22},{"x":44.5,"i":22},{"x":45.5,"i":22},{"x":46.5,"i":22},{"x":47.5,"i":22},{"x":48.5,"i":22},{"x":49.5,"i":22},{"x":50.5,"i":22},{"x":51.5,"i":22},{"x":52.5,"i":22},{"x":53.5,"i":22},{"x":54.5,"i":22},{"x":55.5,"i":22},{"x":56.5,"i":22},{"x":57.5,"i":22},{"x":58.5,"i":22},{"x":59.5,"i":22},{"x":60.5,"i":22},{"x":61.5,"i":22},{"x":62.5,"i":22},{"x":63.5,"i":22},{"x":64.5,"i":22},{"x":65.5,"i":22},{"x":66.5,"i":22},{"x":67.5,"i":22},{"x":68.5,"i":22},
{"x":33.5,"i":23},{"x":34.5,"i":23},{"x":35.5,"i":23},{"x":36.5,"i":23},{"x":37.5,"i":23},{"x":38.5,"i":23},{"x":39.5,"i":23},{"x":40.5,"i":23},{"x":41.5,"i":23},{"x":42.5,"i":23},{"x":43.5,"i":23},{"x":44.5,"i":23},{"x":45.5,"i":23},{"x":46.5,"i":23},{"x":47.5,"i":23},{"x":48.5,"i":23},{"x":49.5,"i":23},{"x":50.5,"i":23},{"x":51.5,"i":23},{"x":52.5,"i":23},{"x":53.5,"i":23},{"x":54.5,"i":23},{"x":55.5,"i":23},{"x":56.5,"i":23},{"x":57.5,"i":23},{"x":58.5,"i":23},{"x":59.5,"i":23},{"x":60.5,"i":23},{"x":61.5,"i":23},{"x":62.5,"i":23},{"x":63.5,"i":23},{"x":64.5,"i":23},{"x":65.5,"i":23},{"x":66.5,"i":23},{"x":67.5,"i":23},
{"x":35.5,"i":24},{"x":36.5,"i":24},{"x":37.5,"i":24},{"x":38.5,"i":24},{"x":39.5,"i":24},{"x":40.5,"i":24},{"x":41.5,"i":24},{"x":42.5,"i":24},{"x":43.5,"i":24},{"x":44.5,"i":24},{"x":45.5,"i":24},{"x":46.5,"i":24},{"x":47.5,"i":24},{"x":48.5,"i":24},{"x":49.5,"i":24},{"x":50.5,"i":24},{"x":51.5,"i":24},{"x":52.5,"i":24},{"x":53.5,"i":24},{"x":54.5,"i":24},{"x":55.5,"i":24},{"x":56.5,"i":24},{"x":57.5,"i":24},{"x":58.5,"i":24},{"x":59.5,"i":24},{"x":60.5,"i":24},{"x":61.5,"i":24},{"x":62.5,"i":24},{"x":63.5,"i":24},{"x":64.5,"i":24},{"x":65.5,"i":24},
{"x":36.5,"i":25},{"x":37.5,"i":25},{"x":38.5,"i":25},{"x":39.5,"i":25},{"x":40.5,"i":25},{"x":41.5,"i":25},{"x":42.5,"i":25},{"x":43.5,"i":25},{"x":44.5,"i":25},{"x":45.5,"i":25},{"x":46.5,"i":25},{"x":47.5,"i":25},{"x":48.5,"i":25},{"x":49.5,"i":25},{"x":50.5,"i":25},{"x":51.5,"i":25},{"x":52.5,"i":25},{"x":53.5,"i":25},{"x":54.5,"i":25},{"x":55.5,"i":25},{"x":56.5,"i":25},{"x":57.5,"i":25},{"x":58.5,"i":25},{"x":59.5,"i":25},{"x":60.5,"i":25},{"x":61.5,"i":25},{"x":62.5,"i":25},{"x":63.5,"i":25},{"x":64.5,"i":25},
{"x":38.5,"i":26},{"x":39.5,"i":26},{"x":40.5,"i":26},{"x":41.5,"i":26},{"x":42.5,"i":26},{"x":43.5,"i":26},{"x":44.5,"i":26},{"x":45.5,"i":26},{"x":46.5,"i":26},{"x":47.5,"i":26},{"x":48.5,"i":26},{"x":49.5,"i":26},{"x":50.5,"i":26},{"x":51.5,"i":26},{"x":52.5,"i":26},{"x":53.5,"i":26},{"x":54.5,"i":26},{"x":55.5,"i":26},{"x":56.5,"i":26},{"x":57.5,"i":26},{"x":58.5,"i":26},{"x":59.5,"i":26},{"x":60.5,"i":26},{"x":61.5,"i":26},{"x":62.5,"i":26},
{"x":39.5,"i":27},{"x":40.5,"i":27},{"x":41.5,"i":27},{"x":42.5,"i":27},{"x":43.5,"i":27},{"x":44.5,"i":27},{"x":45.5,"i":27},{"x":46.5,"i":27},{"x":47.5,"i":27},{"x":48.5,"i":27},{"x":49.5,"i":27},{"x":50.5,"i":27},{"x":51.5,"i":27},{"x":52.5,"i":27},{"x":53.5,"i":27},{"x":54.5,"i":27},{"x":55.5,"i":27},{"x":56.5,"i":27},{"x":57.5,"i":27},{"x":58.5,"i":27},{"x":59.5,"i":27},{"x":60.5,"i":27},{"x":61.5,"i":27},
{"x":41.5,"i":28},{"x":42.5,"i":28},{"x":43.5,"i":28},{"x":44.5,"i":28},{"x":45.5,"i":28},{"x":46.5,"i":28},{"x":47.5,"i":28},{"x":48.5,"i":28},{"x":49.5,"i":28},{"x":50.5,"i":28},{"x":51.5,"i":28},{"x":52.5,"i":28},{"x":53.5,"i":28},{"x":54.5,"i":28},{"x":55.5,"i":28},{"x":56.5,"i":28},{"x":57.5,"i":28},{"x":58.5,"i":28},{"x":59.5,"i":28},
{"x":42.5,"i":29},{"x":43.5,"i":29},{"x":44.5,"i":29},{"x":45.5,"i":29},{"x":46.5,"i":29},{"x":47.5,"i":29},{"x":48.5,"i":29},{"x":49.5,"i":29},{"x":50.5,"i":29},{"x":51.5,"i":29},{"x":52.5,"i":29},{"x":53.5,"i":29},{"x":54.5,"i":29},{"x":55.5,"i":29},{"x":56.5,"i":29},{"x":57.5,"i":29},{"x":58.5,"i":29},
{"x":44.5,"i":30},{"x":45.5,"i":30},{"x":46.5,"i":30},{"x":47.5,"i":30},{"x":48.5,"i":30},{"x":49.5,"i":30},{"x":50.5,"i":30},{"x":51.5,"i":30},{"x":52.5,"i":30},{"x":53.5,"i":30},{"x":54.5,"i":30},{"x":55.5,"i":30},{"x":56.5,"i":30},
{"x":46.5,"i":31},{"x":47.5,"i":31},{"x":48.5,"i":31},{"x":49.5,"i":31},{"x":50.5,"i":31},{"x":51.5,"i":31},{"x":52.5,"i":31},{"x":53.5,"i":31},{"x":54.5,"i":31},
{"x":47.5,"i":32},{"x":48.5,"i":32},{"x":49.5,"i":32},{"x":50.5,"i":32},{"x":51.5,"i":32},{"x":52.5,"i":32},{"x":53.5,"i":32},
{"x":49.5,"i":33},{"x":50.5,"i":33},{"x":51.5,"i":33}
]
},
"vconcat":[
{
"width":660,"height":221,
"view":{"stroke":"#a6a6a6","strokeWidth":1},
"resolve":{"axis":{"x":"independent","y":"independent"}},
"layer":[
{"data":{"name":"bands"},"mark":{"type":"area","orient":"horizontal"},
 "encoding":{
  "y":{"field":"y","type":"quantitative","scale":{"domain":[33,1],"nice":false,"zero":false},"axis":null},
  "x":{"field":"l","type":"quantitative","scale":{"domain":[2.5,98.5],"nice":false,"zero":false},"axis":null},
  "x2":{"field":"r"},
  "detail":{"field":"b","type":"nominal"},
  "color":{"field":"e","type":"quantitative","legend":null,"scale":{"type":"threshold","domain":[0.1,0.2,0.3,0.4,0.5,0.6,0.7,0.8,0.9,1.0,1.1,1.2,1.3,1.4,1.5,1.6,1.7,1.8,1.9,2.0,2.1,2.2,2.3,2.4,2.5,2.6],"range":["#ffffff","#fff5f5","#ffebeb","#ffe2e2","#ffd8d8","#ffcece","#ffc4c4","#ffbaba","#ffb1b1","#ffa7a7","#ff9d9d","#ff9393","#ff8989","#ff8080","#ff7676","#ff6c6c","#ff6262","#ff5858","#ff4f4f","#ff4545","#ff3b3b","#ff3131","#ff2727","#ff1d1d","#ff1414","#ff0a0a","#ff0000"]}}
 }},
{"data":{"name":"lines"},"mark":{"type":"rule","color":"#6a3030","opacity":0.38,"strokeWidth":1},
 "encoding":{
  "y":{"field":"y","type":"quantitative","scale":{"domain":[33,1],"nice":false,"zero":false},"axis":null},
  "x":{"field":"l","type":"quantitative","scale":{"domain":[2.5,98.5],"nice":false,"zero":false},"axis":null},
  "x2":{"field":"r"}
 }},
{"data":{"name":"outline"},"mark":{"type":"line","color":"#9a9a9a","strokeWidth":1},
 "encoding":{
  "y":{"field":"y","type":"quantitative","scale":{"domain":[33,1],"nice":false,"zero":false},"axis":{"orient":"right","values":[10,20,30],"labels":false,"tickSize":5,"title":null}},
  "x":{"field":"x","type":"quantitative","scale":{"domain":[2.5,98.5],"nice":false,"zero":false},"axis":{"orient":"bottom","values":[10,20,30,40,50,60,70,80,90],"labels":false,"tickSize":7,"title":null}},
  "order":{"field":"o","type":"quantitative"}
 }},
{"data":{"name":"dots"},"mark":{"type":"circle","size":7,"color":"#8c8844","opacity":0.9},
 "encoding":{
  "y":{"field":"i","type":"quantitative","scale":{"domain":[33,1],"nice":false,"zero":false},"axis":{"orient":"left","values":[10,20,30],"tickSize":6,"labelFontSize":16,"labelPadding":7,"title":"i","titleFontSize":19,"titleFontWeight":"bold","titleFontStyle":"italic","titleAngle":0,"titleX":-43,"titleY":73,"titleAlign":"center","titleBaseline":"middle"}},
  "x":{"field":"x","type":"quantitative","scale":{"domain":[2.5,98.5],"nice":false,"zero":false},"axis":{"orient":"top","values":[10,20,30,40,50,60,70,80,90],"tickSize":5,"labelFontSize":16,"labelPadding":2,"labelAngle":0,"title":"Electrode positions","titleFontSize":18.5,"titleFontWeight":"bold","titlePadding":3}}
 }},
{"data":{"name":"frame"},"mark":{"type":"rect","filled":false,"color":"black","strokeWidth":2},
 "encoding":{
  "x":{"field":"x1","type":"quantitative","scale":{"domain":[2.5,98.5],"nice":false,"zero":false},"axis":null},
  "x2":{"field":"x2"},
  "y":{"field":"y1","type":"quantitative","scale":{"domain":[33,1],"nice":false,"zero":false},"axis":null},
  "y2":{"field":"y2"}
 }}
]
},
{
"width":660,"height":27,
"view":{"stroke":null},
"data":{"name":"legend"},
"mark":{"type":"rect","stroke":"#5a4646","strokeWidth":1},
"encoding":{
 "x":{"field":"lo","type":"quantitative","scale":{"domain":[-0.8014,3.5449],"nice":false,"zero":false},"axis":{"orient":"bottom","values":[0,0.2,0.4,0.6,0.8,1.0,1.2,1.4,1.6,1.8,2.0,2.2,2.4,2.6],"format":".1f","ticks":false,"labelFontSize":14.5,"labelPadding":2,"labelAngle":0,"title":"% Error in apparent resistivity","titleFontSize":18.5,"titleFontWeight":"bold","titlePadding":0,"titleX":341.7}},
 "x2":{"field":"hi"},
 "color":{"field":"m","type":"quantitative","legend":null,"scale":{"type":"threshold","domain":[0.1,0.2,0.3,0.4,0.5,0.6,0.7,0.8,0.9,1.0,1.1,1.2,1.3,1.4,1.5,1.6,1.7,1.8,1.9,2.0,2.1,2.2,2.3,2.4,2.5,2.6],"range":["#ffffff","#fff5f5","#ffebeb","#ffe2e2","#ffd8d8","#ffcece","#ffc4c4","#ffbaba","#ffb1b1","#ffa7a7","#ff9d9d","#ff9393","#ff8989","#ff8080","#ff7676","#ff6c6c","#ff6262","#ff5858","#ff4f4f","#ff4545","#ff3b3b","#ff3131","#ff2727","#ff1d1d","#ff1414","#ff0a0a","#ff0000"]}}
}
}
]
}
